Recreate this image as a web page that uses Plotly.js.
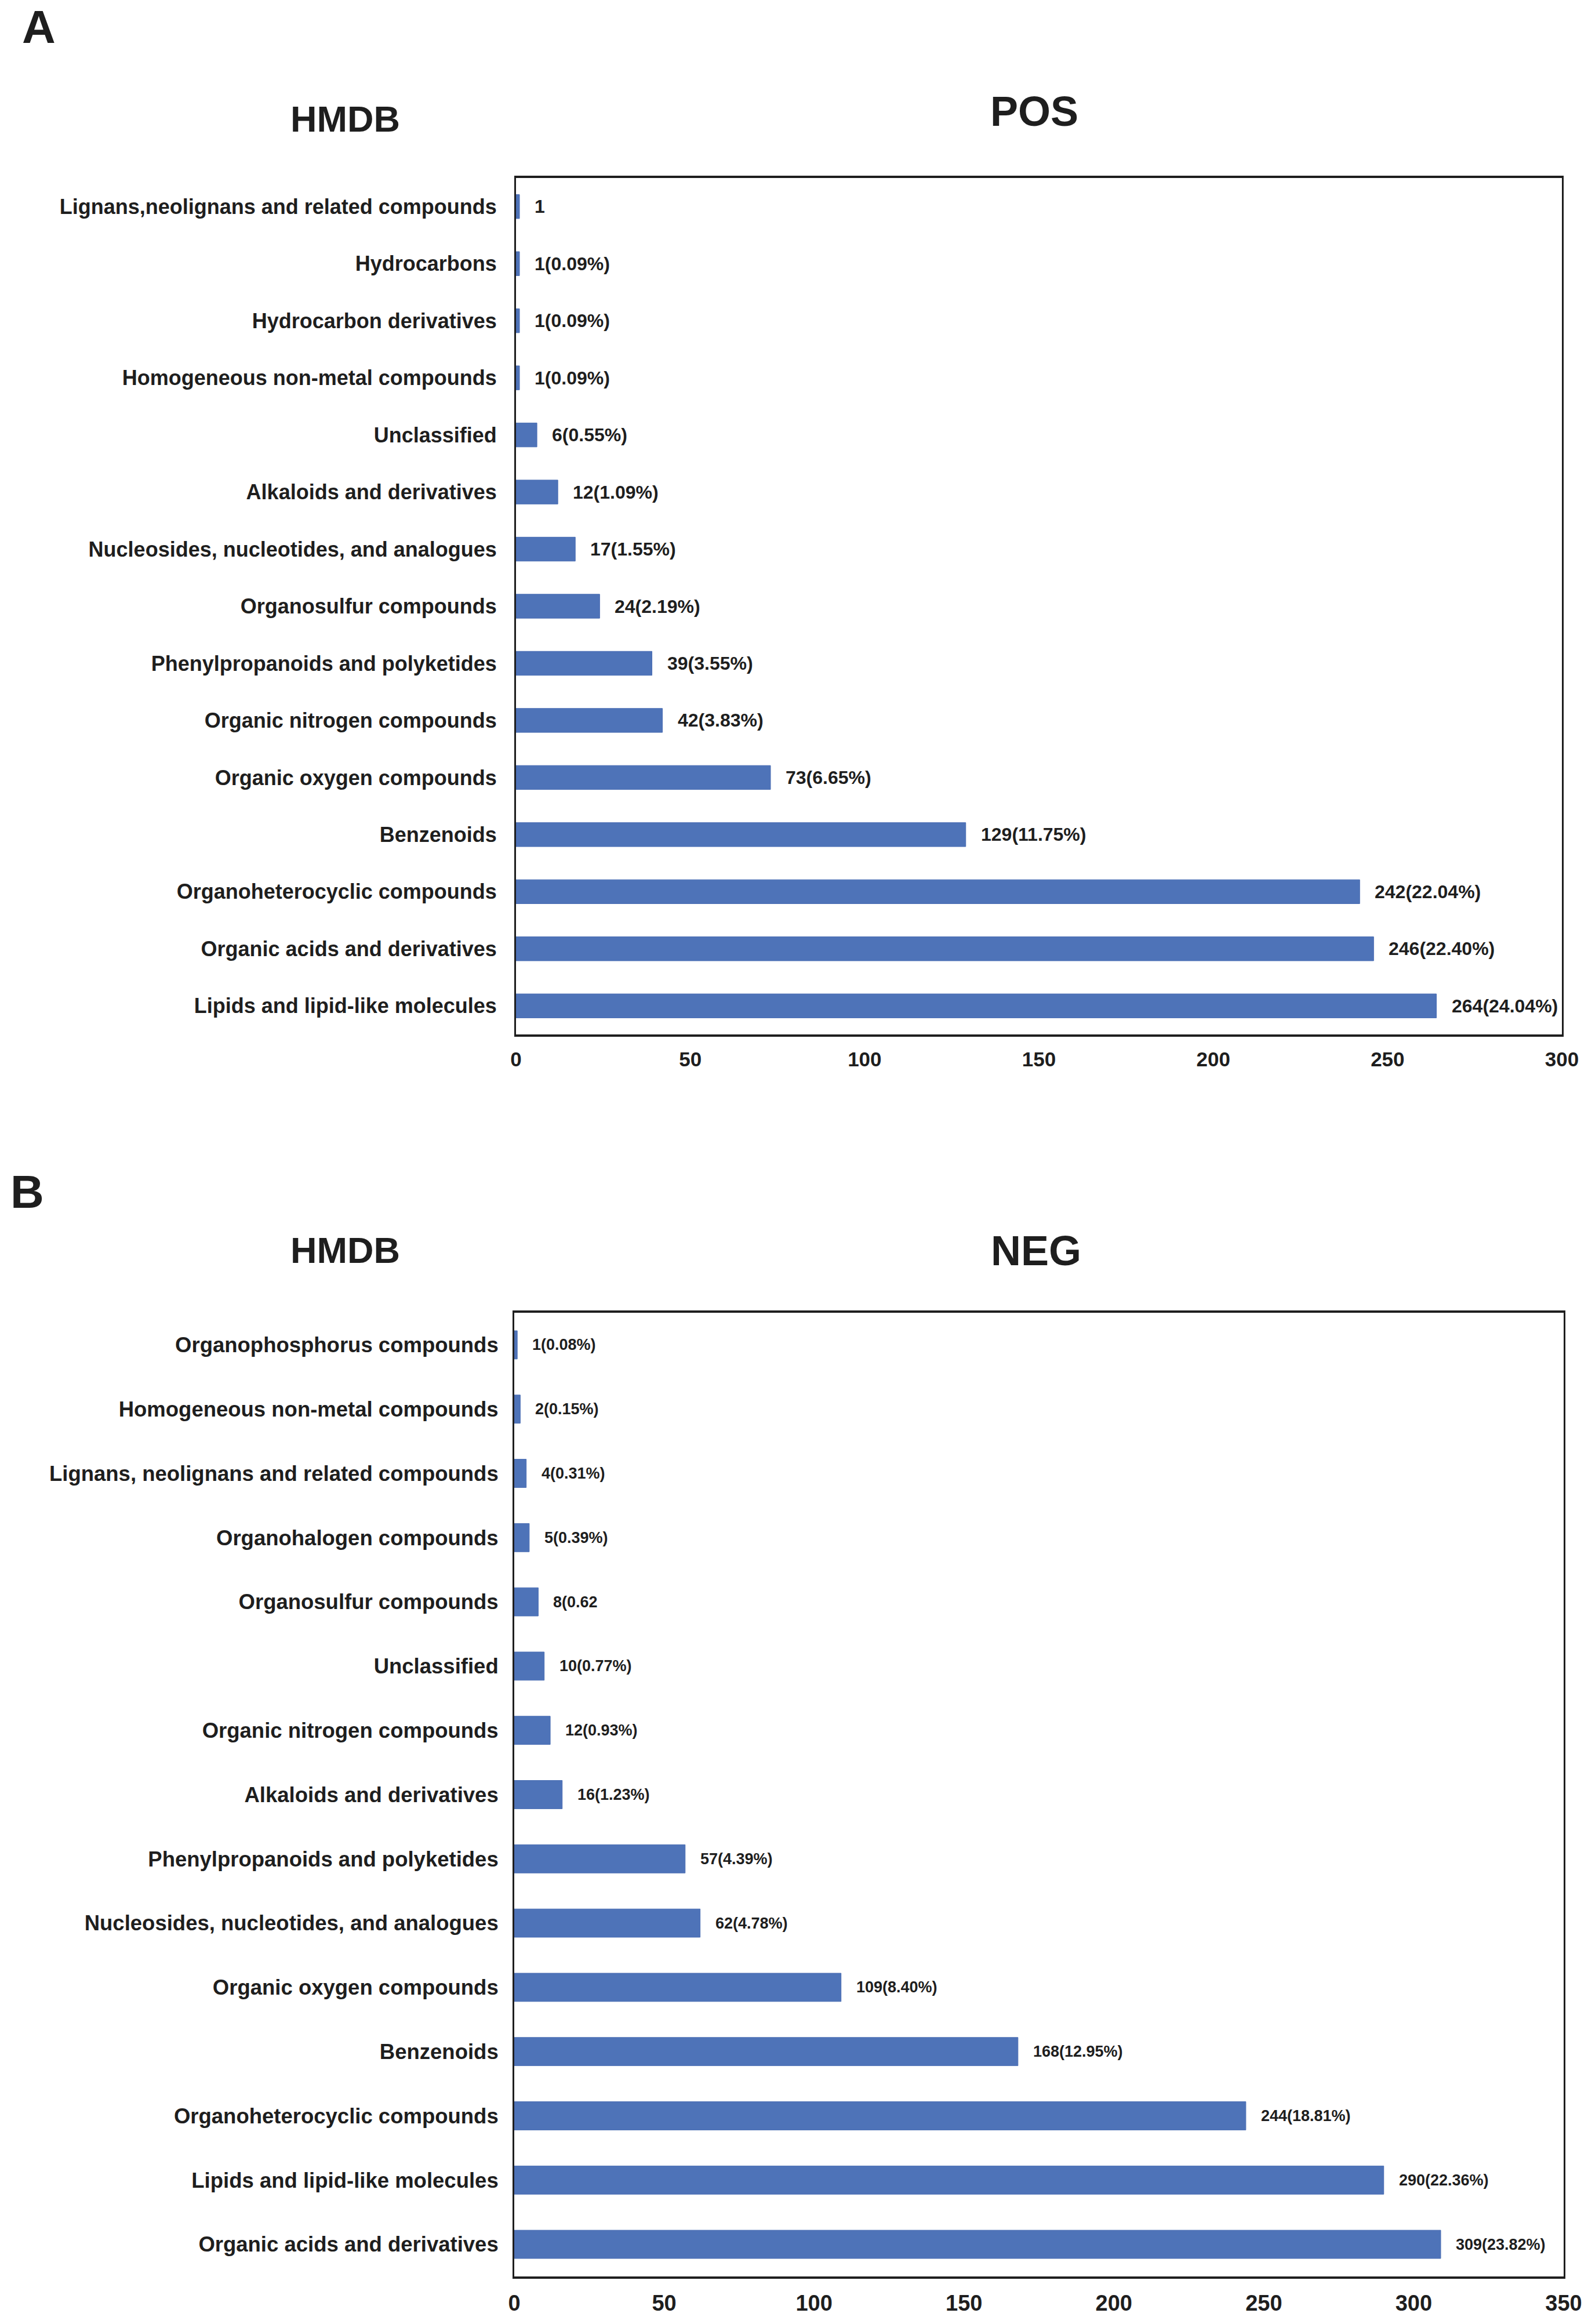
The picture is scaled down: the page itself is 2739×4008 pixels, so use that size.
<!DOCTYPE html>
<html>
<head>
<meta charset="utf-8">
<script src="https://cdn.plot.ly/plotly-3.0.1.min.js"></script>
<style>html,body{margin:0;padding:0;background:#fff;}#chart{width:2739px;height:4008px;}</style>
</head>
<body>
<div id="chart"></div>
<script>
// ---- Panel A (POS) ----
const posCategories = [
  "Lignans,neolignans and related compounds",
  "Hydrocarbons",
  "Hydrocarbon derivatives",
  "Homogeneous non-metal compounds",
  "Unclassified",
  "Alkaloids and derivatives",
  "Nucleosides, nucleotides, and analogues",
  "Organosulfur compounds",
  "Phenylpropanoids and polyketides",
  "Organic nitrogen compounds",
  "Organic oxygen compounds",
  "Benzenoids",
  "Organoheterocyclic compounds",
  "Organic acids and derivatives",
  "Lipids and lipid-like molecules"
];
const posValues = [1, 1, 1, 1, 6, 12, 17, 24, 39, 42, 73, 129, 242, 246, 264];
const posLabels = ["1", "1(0.09%)", "1(0.09%)", "1(0.09%)", "6(0.55%)", "12(1.09%)", "17(1.55%)", "24(2.19%)", "39(3.55%)", "42(3.83%)", "73(6.65%)", "129(11.75%)", "242(22.04%)", "246(22.40%)", "264(24.04%)"];
const posTicks = [0, 50, 100, 150, 200, 250, 300];

// ---- Panel B (NEG) ----
const negCategories = [
  "Organophosphorus compounds",
  "Homogeneous non-metal compounds",
  "Lignans, neolignans and related compounds",
  "Organohalogen compounds",
  "Organosulfur compounds",
  "Unclassified",
  "Organic nitrogen compounds",
  "Alkaloids and derivatives",
  "Phenylpropanoids and polyketides",
  "Nucleosides, nucleotides, and analogues",
  "Organic oxygen compounds",
  "Benzenoids",
  "Organoheterocyclic compounds",
  "Lipids and lipid-like molecules",
  "Organic acids and derivatives"
];
const negValues = [1, 2, 4, 5, 8, 10, 12, 16, 57, 62, 109, 168, 244, 290, 309];
const negLabels = ["1(0.08%)", "2(0.15%)", "4(0.31%)", "5(0.39%)", "8(0.62", "10(0.77%)", "12(0.93%)", "16(1.23%)", "57(4.39%)", "62(4.78%)", "109(8.40%)", "168(12.95%)", "244(18.81%)", "290(22.36%)", "309(23.82%)"];
const negTicks = [0, 50, 100, 150, 200, 250, 300, 350];

const FONT = "Liberation Sans, Arial, Helvetica, sans-serif";
const INK = "#1e1e1e";
const BAR = "#4E73B8";

const traces = [
  {type: "bar", orientation: "h", x: posValues, y: posCategories, xaxis: "x", yaxis: "y",
   width: 0.42, marker: {color: BAR, line: {color: "#4A6DB3", width: 1}}, hoverinfo: "x+y"},
  {type: "bar", orientation: "h", x: negValues, y: negCategories, xaxis: "x2", yaxis: "y2",
   width: 0.44, marker: {color: BAR, line: {color: "#4A6DB3", width: 1}}, hoverinfo: "x+y"}
];

const annotations = [];
posValues.forEach((v, i) => annotations.push({
  x: v, y: posCategories[i], xref: "x", yref: "y", text: posLabels[i], showarrow: false,
  xanchor: "left", yanchor: "middle", xshift: 24, font: {family: FONT, size: 32, color: INK, weight: "bold"}
}));
negValues.forEach((v, i) => annotations.push({
  x: v, y: negCategories[i], xref: "x2", yref: "y2", text: negLabels[i], showarrow: false,
  xanchor: "left", yanchor: "middle", xshift: 24, font: {family: FONT, size: 27, color: INK, weight: "bold"}
}));
const titleFont = (s) => ({family: FONT, size: s, color: INK, weight: "bold"});
annotations.push(
  {x: 67/2739, y: 1 - 47/4008, xref: "paper", yref: "paper", text: "A", showarrow: false, xanchor: "center", yanchor: "middle", font: titleFont(80)},
  {x: 595/2739, y: 1 - 205/4008, xref: "paper", yref: "paper", text: "HMDB", showarrow: false, xanchor: "center", yanchor: "middle", font: titleFont(63)},
  {x: 1784/2739, y: 1 - 192/4008, xref: "paper", yref: "paper", text: "POS", showarrow: false, xanchor: "center", yanchor: "middle", font: titleFont(72)},
  {x: 47/2739, y: 1 - 2055/4008, xref: "paper", yref: "paper", text: "B", showarrow: false, xanchor: "center", yanchor: "middle", font: titleFont(80)},
  {x: 595/2739, y: 1 - 2156/4008, xref: "paper", yref: "paper", text: "HMDB", showarrow: false, xanchor: "center", yanchor: "middle", font: titleFont(63)},
  {x: 1787/2739, y: 1 - 2157/4008, xref: "paper", yref: "paper", text: "NEG", showarrow: false, xanchor: "center", yanchor: "middle", font: titleFont(72)}
);

const xCommon = {showgrid: false, zeroline: false, showline: true, mirror: true, linecolor: INK, linewidth: 4,
  ticks: "", fixedrange: true};
const yCommon = {showgrid: false, zeroline: false, showline: true, mirror: true, linecolor: INK, linewidth: 3,
  ticks: "", fixedrange: true, type: "category"};

const layout = {
  width: 2739, height: 4008,
  margin: {l: 0, r: 0, t: 0, b: 0},
  paper_bgcolor: "#fff", plot_bgcolor: "#fff",
  showlegend: false,
  font: {family: FONT, color: INK},
  xaxis: Object.assign({}, xCommon, {domain: [890/2739, 2694/2739], anchor: "y", range: [0, 300],
    tickvals: posTicks, ticktext: posTicks.map(String), ticklabelstandoff: 9,
    tickfont: {family: FONT, size: 35, color: INK, weight: "bold"}}),
  yaxis: Object.assign({}, yCommon, {domain: [1 - 1784/4008, 1 - 307/4008], anchor: "x",
    categoryorder: "array", categoryarray: posCategories, range: [posCategories.length - 0.5, -0.5],
    ticklabelstandoff: 23, tickfont: {family: FONT, size: 36, color: INK, weight: "bold"}}),
  xaxis2: Object.assign({}, xCommon, {domain: [887/2739, 2697/2739], anchor: "y2", range: [0, 350],
    tickvals: negTicks, ticktext: negTicks.map(String), ticklabelstandoff: 9,
    tickfont: {family: FONT, size: 38, color: INK, weight: "bold"}}),
  yaxis2: Object.assign({}, yCommon, {domain: [1 - 3926/4008, 1 - 2264/4008], anchor: "x2",
    categoryorder: "array", categoryarray: negCategories, range: [negCategories.length - 0.5, -0.5],
    ticklabelstandoff: 17, tickfont: {family: FONT, size: 36.5, color: INK, weight: "bold"}}),
  annotations: annotations
};

Plotly.newPlot("chart", traces, layout, {displayModeBar: false, staticPlot: true});
</script>
</body>
</html>
